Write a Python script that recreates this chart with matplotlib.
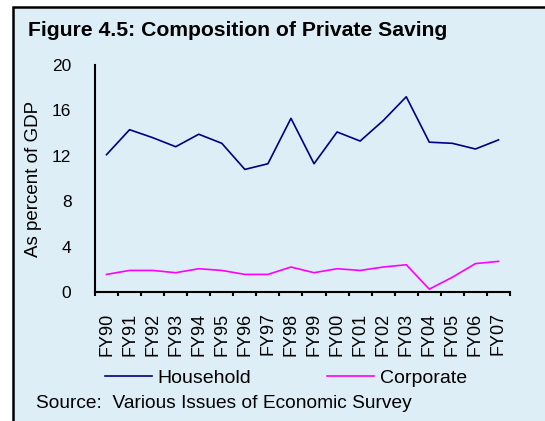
import matplotlib as mpl
mpl.use('Agg')
import matplotlib.pyplot as plt
from matplotlib.patches import Rectangle
from matplotlib.lines import Line2D
import numpy as np

years = ['FY90', 'FY91', 'FY92', 'FY93', 'FY94', 'FY95', 'FY96', 'FY97', 'FY98',
         'FY99', 'FY00', 'FY01', 'FY02', 'FY03', 'FY04', 'FY05', 'FY06', 'FY07']
household = [12.1, 14.3, 13.6, 12.8, 13.9, 13.1, 10.8, 11.3, 15.3,
             11.3, 14.1, 13.3, 15.1, 17.2, 13.2, 13.1, 12.6, 13.4]
corporate = [1.55, 1.9, 1.9, 1.7, 2.05, 1.9, 1.55, 1.55, 2.2,
             1.7, 2.05, 1.9, 2.2, 2.4, 0.25, 1.3, 2.5, 2.7]
yticks = [0, 4, 8, 12, 16, 20]

plt.rcParams['font.family'] = ['Liberation Sans', 'DejaVu Sans']
bg = '#ddeef6'

fig = plt.figure(figsize=(5.45, 4.21), dpi=100, facecolor='white')
# boxed panel behind everything
fig.patches.append(Rectangle((12.5/545, -0.1), 1.0, (421-7.5)/421 + 0.1,
                             transform=fig.transFigure, facecolor=bg,
                             edgecolor='black', linewidth=1.8, zorder=-5))

ax = fig.add_axes([95/545, (421-292)/421, 415/545, 227/421])
ax.set_facecolor('none')
x = np.arange(len(years))
ax.plot(x, household, color='#000080', lw=1.2)
ax.plot(x, corporate, color='#ff00ff', lw=1.2)

ax.set_xlim(-0.5, len(years) - 0.5)
ax.set_ylim(0, 20)
ax.set_yticks(yticks)
ax.set_yticklabels([str(v) for v in yticks], fontsize=12.5)
ax.tick_params(axis='y', length=0, pad=17)
# ticks between categories, labels drawn as text
ax.set_xticks(np.append(x - 0.5, len(years) - 0.5))
ax.set_xticklabels([''] * (len(years) + 1))
ax.tick_params(axis='x', length=3, width=1.5, direction='out')
for i, lab in enumerate(years):
    ax.text(i, -0.09, lab, transform=ax.get_xaxis_transform(), rotation=90,
            ha='center', va='top', fontsize=13)
for s in ['top', 'right']:
    ax.spines[s].set_visible(False)
for s in ['left', 'bottom']:
    ax.spines[s].set_linewidth(1.5)
ax.set_ylabel('As percent of GDP', fontsize=13.5, labelpad=7)

fig.text(28/545, 1 - 31/421, 'Figure 4.5: Composition of Private Saving',
         fontsize=15.2, fontweight='bold', ha='left', va='center')

handles = [Line2D([], [], color='#000080', lw=1.2),
           Line2D([], [], color='#ff00ff', lw=1.2)]
fig.legend(handles, ['Household', 'Corporate'], loc='center',
           bbox_to_anchor=(286/545, 1 - 378/421), ncol=2, frameon=False,
           fontsize=14, handlelength=2.42, handletextpad=0.3, columnspacing=3.9)

fig.text(36/545, 1 - 403/421, 'Source:  Various Issues of Economic Survey',
         fontsize=13.8, ha='left', va='center')

fig.savefig('out.png', dpi=100, facecolor='white')
